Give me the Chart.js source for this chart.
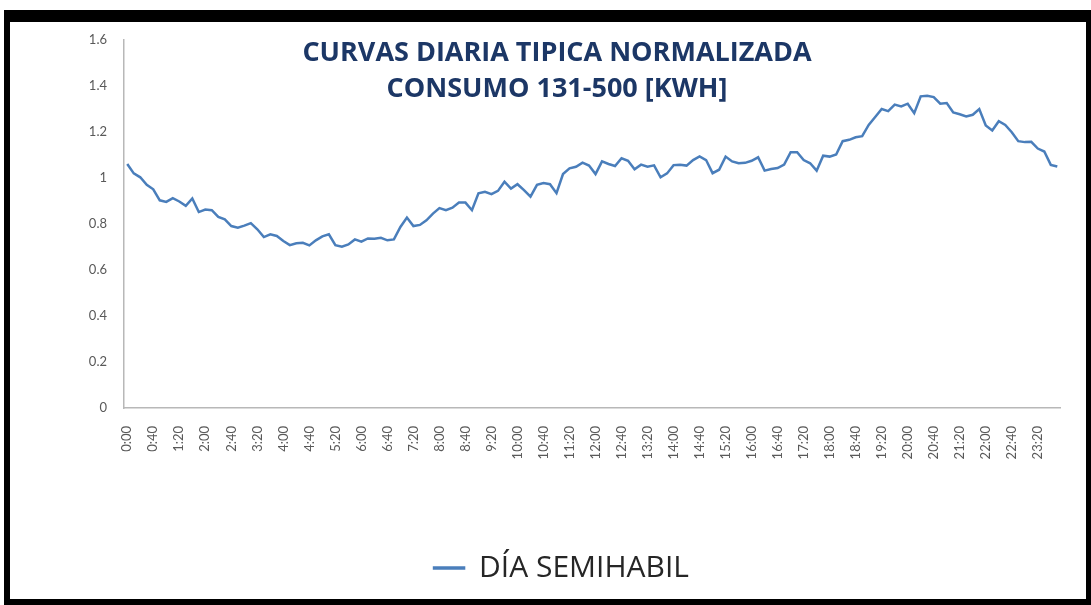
<!DOCTYPE html>
<html>
<head>
<meta charset="utf-8">
<script src="https://cdn.jsdelivr.net/npm/chart.js@4/dist/chart.umd.min.js"></script>
<style>
    body { margin: 0; background: #fff; }
    #frame {
        position: absolute; left: 4px; top: 10px; right: 0; bottom: 0;
        box-sizing: border-box;
        border-top: 12px solid #000; border-left: 6px solid #000;
        border-right: 5px solid #000; border-bottom: 6px solid #000;
    }
    #chart { position: absolute; left: 0; top: 0; }
</style>
</head>
<body>
<div id="frame"></div>
<canvas id="chart" width="1091" height="605"></canvas>
<script>
// 10-minute slots, 0:00 .. 23:50
const horas = [];
for (let h = 0; h < 24; h++) {
    for (let m = 0; m < 60; m += 10) {
        horas.push(h + ":" + (m < 10 ? "0" + m : m));
    }
}

const diaSemihabil = [
    1.061, 1.020, 1.003, 0.970, 0.951, 0.903, 0.896, 0.912, 0.898, 0.879,
    0.911, 0.852, 0.863, 0.860, 0.831, 0.820, 0.791, 0.784, 0.793, 0.804,
    0.777, 0.743, 0.755, 0.748, 0.726, 0.708, 0.716, 0.718, 0.707, 0.729,
    0.746, 0.755, 0.708, 0.701, 0.711, 0.733, 0.723, 0.737, 0.736, 0.740,
    0.729, 0.733, 0.787, 0.828, 0.791, 0.796, 0.816, 0.845, 0.869, 0.860,
    0.871, 0.893, 0.893, 0.860, 0.933, 0.940, 0.930, 0.944, 0.984, 0.954,
    0.973, 0.947, 0.919, 0.970, 0.978, 0.973, 0.934, 1.017, 1.042, 1.049,
    1.067, 1.054, 1.017, 1.072, 1.061, 1.052, 1.086, 1.075, 1.038, 1.058,
    1.049, 1.055, 1.003, 1.020, 1.056, 1.058, 1.054, 1.078, 1.094, 1.078,
    1.021, 1.036, 1.093, 1.072, 1.064, 1.066, 1.075, 1.090, 1.032, 1.039,
    1.043, 1.058, 1.112, 1.112, 1.078, 1.064, 1.032, 1.097, 1.093, 1.102,
    1.160, 1.166, 1.177, 1.182, 1.231, 1.265, 1.300, 1.291, 1.319, 1.311,
    1.323, 1.282, 1.355, 1.358, 1.352, 1.323, 1.326, 1.285, 1.277, 1.268,
    1.275, 1.300, 1.228, 1.207, 1.247, 1.231, 1.199, 1.160, 1.156, 1.157,
    1.128, 1.115, 1.057, 1.050
];

const yTicks = ["0", "0.2", "0.4", "0.6", "0.8", "1", "1.2", "1.4", "1.6"];
const titulo = ["CURVAS DIARIA TIPICA NORMALIZADA", "CONSUMO 131-500 [KWH]"];
const serieLabel = "DÍA SEMIHABIL";

// title sits over the plot area, like the Excel overlay title
const overlayTitle = {
    id: 'overlayTitle',
    afterDraw(chart) {
        const ctx = chart.ctx;
        ctx.save();
        ctx.font = "bold 27px 'Open Sans'";
        ctx.fillStyle = "#1c3766";
        ctx.textAlign = "center";
        ctx.textBaseline = "middle";
        ctx.fillText(titulo[0], 557, 53);
        ctx.fillText(titulo[1], 557, 89);
        ctx.restore();
    }
};

// Excel centres the legend under the plot area, not the whole canvas
const legendShift = {
    id: 'legendShift',
    afterLayout(chart) {
        chart.legend.left += 30;
        chart.legend.right += 30;
    }
};

new Chart(document.getElementById("chart"), {
    type: 'line',
    data: {
        labels: horas,
        datasets: [{
            label: serieLabel,
            data: diaSemihabil,
            borderColor: '#4a7ebb',
            backgroundColor: '#4a7ebb',
            borderWidth: 2.5,
            pointRadius: 0,
            tension: 0
        }]
    },
    options: {
        responsive: false,
        animation: false,
        layout: { padding: { top: 40, right: 28, bottom: 12, left: 0 } },
        plugins: {
            legend: {
                position: 'bottom',
                labels: {
                    font: { family: 'Open Sans', size: 30 },
                    color: '#262626',
                    boxWidth: 30,
                    boxHeight: 1,
                    padding: 8
                }
            },
            tooltip: { enabled: false }
        },
        scales: {
            x: {
                offset: true,
                grid: { display: false, drawTicks: false },
                border: { color: '#b8b8b8', width: 1.5 },
                ticks: {
                    autoSkip: false,
                    maxRotation: 90,
                    minRotation: 90,
                    padding: 18,
                    color: '#595959',
                    font: { family: 'Lato', size: 13 },
                    callback: function (value, index) {
                        return index % 4 === 0 ? horas[index] : '';
                    }
                },
                afterFit: function (scale) { scale.height = 137; }
            },
            y: {
                min: 0,
                max: 1.6,
                grid: { display: false, drawTicks: false },
                border: { color: '#b8b8b8', width: 1.5 },
                ticks: {
                    stepSize: 0.2,
                    padding: 17,
                    color: '#595959',
                    font: { family: 'Lato', size: 13 },
                    callback: function (value, index) { return yTicks[index]; }
                },
                afterFit: function (scale) { scale.width = 124; }
            }
        }
    },
    plugins: [overlayTitle, legendShift]
});
</script>
</body>
</html>
